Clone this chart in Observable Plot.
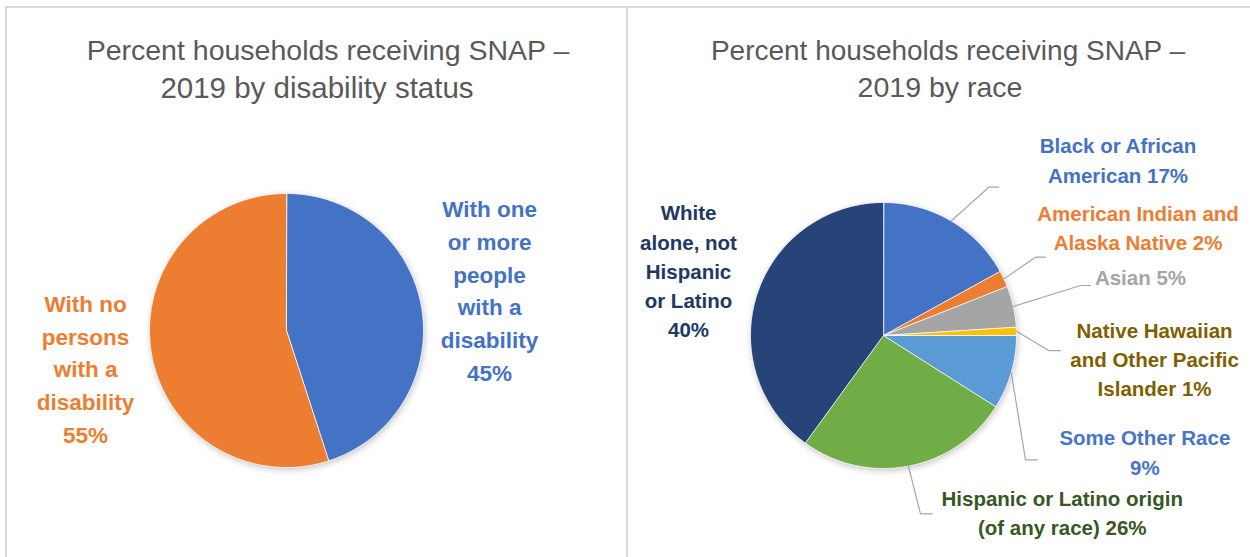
<!DOCTYPE html>
<html>
<head>
<meta charset="utf-8">
<script src="https://cdn.jsdelivr.net/npm/d3@7"></script>
<script src="https://cdn.jsdelivr.net/npm/@observablehq/plot@0.6"></script>
<style>
  html, body { margin: 0; padding: 0; background: #ffffff; }
  #wrap { position: relative; width: 1250px; height: 557px; overflow: hidden; background: #fff;
          font-family: "Liberation Sans", Arial, sans-serif; }
  .rule { position: absolute; background: #d9d9d9; }
  .title { position: absolute; width: 640px; text-align: center; white-space: nowrap;
           font-size: 28.5px; line-height: 37px; color: #595959; z-index: 2; }
  .panel { position: absolute; top: 0; }
  .panel svg { display: block; }
</style>
</head>
<body>
<div id="wrap">
  <div class="rule" style="left:6px;top:6px;width:1244px;height:2px"></div>
  <div class="rule" style="left:5px;top:6px;width:2px;height:551px"></div>
  <div class="rule" style="left:626px;top:6px;width:2px;height:551px"></div>
  <div class="title" style="left:8px;top:32px">Percent households receiving SNAP –</div>
  <div class="title" style="left:-3px;top:69px;font-size:29.5px">2019 by disability status</div>
  <div class="title" style="left:628px;top:32px;font-size:28px">Percent households receiving SNAP –</div>
  <div class="title" style="left:620px;top:69px">2019 by race</div>
  <div class="panel" id="left" style="left:0px"></div>
  <div class="panel" id="right" style="left:627px"></div>
</div>
<script>
// ---------- data ----------
const disabilityCategories = ["With one or more people with a disability", "With no persons with a disability"];
const disabilityValues = [45, 55];
const disabilityLabels = ["With one\nor more\npeople\nwith a\ndisability\n45%", "With no\npersons\nwith a\ndisability\n55%"];

const raceCategories = [
  "Black or African American",
  "American Indian and Alaska Native",
  "Asian",
  "Native Hawaiian and Other Pacific Islander",
  "Some Other Race",
  "Hispanic or Latino origin (of any race)",
  "White alone, not Hispanic or Latino"
];
const raceValues = [17, 2, 5, 1, 9, 26, 40];
const raceLabels = [
  "Black or African\nAmerican 17%",
  "American Indian and\nAlaska Native 2%",
  "Asian 5%",
  "Native Hawaiian\nand Other Pacific\nIslander 1%",
  "Some Other Race\n9%",
  "Hispanic or Latino origin\n(of any race) 26%",
  "White\nalone, not\nHispanic\nor Latino\n40%"
];

// ---------- styles ----------
const disabilitySliceColors = ["#4472C4", "#ED7D31"];
const disabilityLabelColors = ["#4472C4", "#ED7D31"];
const raceSliceColors = ["#4472C4", "#ED7D31", "#A5A5A5", "#FFC000", "#5B9BD5", "#70AD47", "#264478"];
const raceLabelColors = ["#4472C4", "#ED7D31", "#A5A5A5", "#7F6000", "#4775C8", "#385723", "#203864"];

// ---------- layout (unit = pie radius) ----------
const disabilityLabelPos = [[1.482, 0.285], [-1.467, -0.288]];
const raceLabelPos = [[1.763, 1.307], [1.914, 0.802], [1.932, 0.426], [2.038, -0.190], [1.965, -0.887], [1.344, -1.344], [-1.466, 0.474]];
// leader line elbows and ends (null = no leader)
const raceLeaders = [
  [[0.792, 1.115], [0.867, 1.115]],
  [[1.143, 0.589], [1.218, 0.589]],
  [[1.481, 0.376], [1.556, 0.376]],
  [[1.243, -0.113], [1.331, -0.113]],
  [[1.068, -0.935], [1.156, -0.935]],
  [[0.278, -1.341], [0.366, -1.341]],
  null
];

function pieGeometry(values) {
  const arcs = d3.pie().sort(null).value(d => d)(values);
  const rows = [];
  arcs.forEach((a, i) => {
    rows.push({i, x: 0, y: 0});
    const n = Math.max(2, Math.ceil((a.endAngle - a.startAngle) / (Math.PI / 360)));
    for (let k = 0; k <= n; k++) {
      const t = a.startAngle + (a.endAngle - a.startAngle) * k / n;
      rows.push({i, x: Math.sin(t), y: Math.cos(t)});
    }
  });
  return {arcs, rows};
}

function drawPie(opts) {
  const {values, labels, sliceColors, labelColors, labelPos, leaders, width, height, cx, cy, r, fontSize, lineHeight} = opts;
  const {arcs, rows} = pieGeometry(values);
  const leaderRows = [];
  if (leaders) {
    arcs.forEach((a, i) => {
      if (!leaders[i]) return;
      const m = (a.startAngle + a.endAngle) / 2;
      leaderRows.push({i, x: Math.sin(m), y: Math.cos(m)});
      leaders[i].forEach(p => leaderRows.push({i, x: p[0], y: p[1]}));
    });
  }
  const textMarks = labels.map((t, i) => Plot.text([{x: labelPos[i][0], y: labelPos[i][1], t}], {
    x: "x", y: "y", text: "t", fill: labelColors[i], dy: -3,
    fontSize, fontWeight: "bold", fontFamily: "Liberation Sans, Arial, sans-serif",
    lineHeight, textAnchor: "middle", lineAnchor: "middle"
  }));
  const svg = Plot.plot({
    width, height, margin: 0,
    x: {domain: [-cx / r, (width - cx) / r], axis: null},
    y: {domain: [(cy - height) / r, cy / r], axis: null},
    color: {type: "identity"},
    style: {background: "transparent", overflow: "visible"},
    marks: [
      Plot.line(rows, {x: "x", y: "y", z: "i", fill: d => sliceColors[d.i], stroke: "#ffffff", strokeWidth: 0.8, curve: "linear-closed"}),
      Plot.line(leaderRows, {x: "x", y: "y", z: "i", stroke: "#A6A6A6", strokeWidth: 1.2}),
      ...textMarks
    ]
  });
  d3.select(svg).select('g[aria-label="line"]').style("filter", "drop-shadow(1px 2px 3px rgba(0,0,0,0.22))");
  return svg;
}

document.getElementById("left").appendChild(drawPie({
  values: disabilityValues, labels: disabilityLabels,
  sliceColors: disabilitySliceColors, labelColors: disabilityLabelColors,
  labelPos: disabilityLabelPos, leaders: null,
  width: 626, height: 557, cx: 286, cy: 330, r: 137, fontSize: 22.5, lineHeight: 1.46
}));

document.getElementById("right").appendChild(drawPie({
  values: raceValues, labels: raceLabels,
  sliceColors: raceSliceColors, labelColors: raceLabelColors,
  labelPos: raceLabelPos, leaders: raceLeaders,
  width: 623, height: 557, cx: 256, cy: 335, r: 133, fontSize: 20.5, lineHeight: 1.43
}));
</script>
</body>
</html>
